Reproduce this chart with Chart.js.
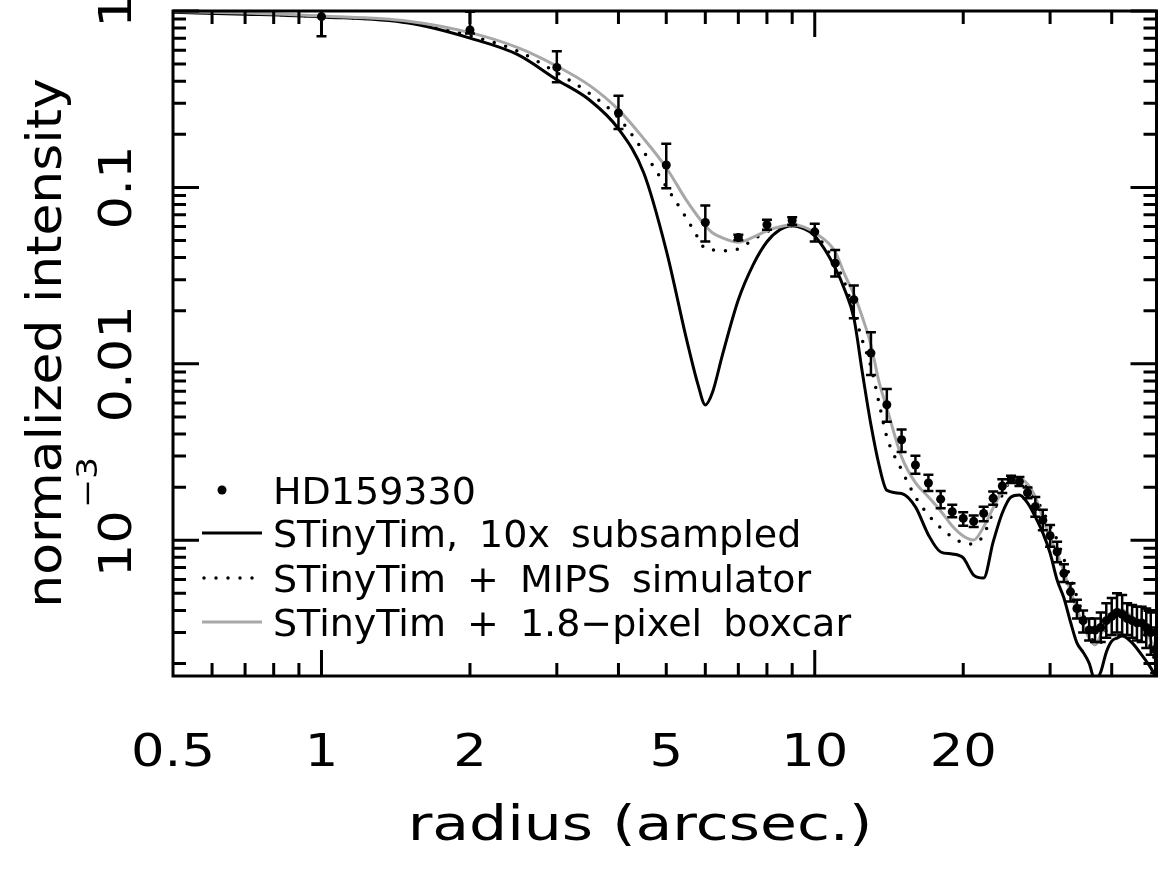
<!DOCTYPE html>
<html>
<head>
<meta charset="utf-8">
<script src="https://cdn.jsdelivr.net/npm/chart.js@4.4.0/dist/chart.umd.min.js"></script>
<style>
  html, body { margin: 0; padding: 0; background: #fff; }
  #wrap { width: 1161px; height: 871px; position: relative; }
</style>
</head>
<body>
<div id="wrap"><canvas id="psfChart"></canvas></div>
<script>
// radius grid (arcsec) of the model curves
const curveRadius = [0.5, 0.7, 1, 1.5, 2, 2.5, 3, 3.5, 4, 4.5,
  5, 5.5, 5.8, 6, 6.2, 6.5, 7, 7.5, 8, 8.5,
  9, 9.5, 10, 11, 11.5, 12, 12.5, 13, 13.5, 14,
  15, 16, 17, 18, 19, 20, 21, 22, 23, 24, 25, 26, 27, 28, 29, 30,
  31, 32, 33, 34, 35, 36, 37, 38, 39, 40, 41, 42, 44, 46, 48, 49];

// STinyTim, 10x subsampled
const tinyTim10x = [0.983, 0.960, 0.926, 0.854, 0.702, 0.566, 0.408, 0.312, 0.215, 0.121,
  0.044, 0.01368, 0.0076, 0.00585, 0.00685, 0.01125, 0.02307, 0.0364, 0.0492, 0.0575,
  0.0606, 0.0583, 0.0532, 0.0350, 0.0263, 0.01824, 0.00878, 0.00451, 0.00267, 0.00192,
  0.00184, 0.001545, 0.001072, 0.000858, 0.000836, 0.000794, 0.000635, 0.000611, 0.000978, 0.001428,
  0.00176, 0.001807, 0.001627, 0.001356, 0.0011, 0.000847, 0.000595, 0.000471, 0.000344, 0.000262,
  0.000232, 0.000201, 0.000161, 0.000179, 0.000232, 0.000268, 0.000279, 0.000287, 0.000262, 0.000224,
  0.000189, 0.000170];

// STinyTim + MIPS simulator
const tinyTimMips = [0.986, 0.967, 0.929, 0.865, 0.725, 0.592, 0.447, 0.340, 0.2485, 0.1594,
  0.1009, 0.0665, 0.0518, 0.0449, 0.0443, 0.0437, 0.0449, 0.0505, 0.0561, 0.0591,
  0.0606, 0.0591, 0.0547, 0.0374, 0.0288, 0.0197, 0.01349, 0.00962, 0.00601, 0.00385,
  0.002504, 0.00176, 0.00139, 0.001174, 0.001044, 0.000966, 0.000953, 0.001072, 0.001447, 0.001807,
  0.00217, 0.0022, 0.002006, 0.001738, 0.001466, 0.001205, 0.001004, 0.000783, 0.000611, 0.000477,
  0.000382, 0.000306, 0.000258, 0.000262, 0.00031, 0.000362, 0.000387, 0.000392, 0.000358, 0.00031,
  0.000245, 0.000204];

// STinyTim + 1.8-pixel boxcar
const tinyTimBoxcar = [0.992, 0.973, 0.936, 0.876, 0.754, 0.620, 0.487, 0.3775, 0.276, 0.189,
  0.1293, 0.0841, 0.0682, 0.0606, 0.0553, 0.0518, 0.0489, 0.0522, 0.0568, 0.0598,
  0.0614, 0.0598, 0.0553, 0.0432, 0.032, 0.0249, 0.01824, 0.0128, 0.0079, 0.00563,
  0.00297, 0.00212, 0.00176, 0.001466, 0.001205, 0.001058, 0.001004, 0.00119, 0.001525, 0.001904,
  0.00217, 0.002227, 0.002086, 0.00176, 0.001338, 0.00103, 0.000847, 0.000661, 0.000516, 0.000408,
  0.000331, 0.000279, 0.000255, 0.00029, 0.000344, 0.000387, 0.000402, 0.000402, 0.000367, 0.000331,
  0.000272, 0.000239];

// HD159330 measurements, one per arcsec
const obsRadius = [1, 2, 3, 4, 5, 6, 7, 8, 9, 10, 11, 12, 13, 14, 15, 16, 17, 18, 19, 20,
  21, 22, 23, 24, 25, 26, 27, 28, 29, 30, 31, 32, 33, 34, 35, 36, 37, 38, 39, 40,
  41, 42, 43, 44, 45, 46, 47, 48, 49];
const obsIntensity = [0.93, 0.78, 0.479, 0.264, 0.134, 0.0633, 0.052, 0.0614, 0.065, 0.056,
  0.0372, 0.0231, 0.0115, 0.00586, 0.00371, 0.00267, 0.00211, 0.00171, 0.00145, 0.00133,
  0.00128, 0.00142, 0.00173, 0.00203, 0.00222, 0.00215, 0.00186, 0.00155, 0.0013, 0.00106,
  0.00086, 0.00065, 0.00051, 0.00041, 0.00035, 0.00031, 0.00031, 0.00032, 0.00035, 0.00037,
  0.00039, 0.00038, 0.00036, 0.00035, 0.00034, 0.00034, 0.00032, 0.0003, 0.00024];
const obsLow = [0.72, 0.745, 0.394, 0.214, 0.099, 0.0494, 0.0501, 0.0575, 0.0614, 0.0494,
  0.0313, 0.0181, 0.00865, 0.00469, 0.00316, 0.00238, 0.0019, 0.00152, 0.00135, 0.00121,
  0.00119, 0.00128, 0.00159, 0.00185, 0.00211, 0.00203, 0.00173, 0.00136, 0.00114, 0.00092,
  0.00075, 0.00058, 0.00045, 0.00036, 0.0003, 0.00027, 0.000265, 0.000265, 0.00028, 0.00029,
  0.0003, 0.00029, 0.00029, 0.00028, 0.00027, 0.000265, 0.000245, 0.000224, 0.000177];
const obsHigh = [1.14, 0.99, 0.591, 0.331, 0.177, 0.079, 0.0539, 0.0656, 0.0678, 0.0623,
  0.0442, 0.0278, 0.0151, 0.0072, 0.00425, 0.00301, 0.00235, 0.0019, 0.00159, 0.00144,
  0.00138, 0.00155, 0.00189, 0.00222, 0.00232, 0.00228, 0.00199, 0.00176, 0.00149, 0.00122,
  0.00098, 0.00073, 0.00057, 0.00046, 0.0004, 0.00036, 0.00036, 0.00039, 0.00044, 0.00047,
  0.0005, 0.00049, 0.00044, 0.00043, 0.00042, 0.00042, 0.00041, 0.00039, 0.00032];

// axes
const xMin = 0.5, xMax = 49.3;
const yMin = 1.7e-4, yMax = 1;
const xTickValues = [0.5, 1, 2, 5, 10, 20];
const xTickLabels = ['0.5', '1', '2', '5', '10', '20'];
const yTickValues = [1, 0.1, 0.01, 0.001];
const yTickLabels = ['1', '0.1', '0.01', '10'];
const xMajorTicks = [1, 10];
const xMinorTicks = [0.6, 0.7, 0.8, 0.9, 2, 3, 4, 5, 6, 7, 8, 9, 20, 30, 40];
const yMajorTicks = [1, 0.1, 0.01, 0.001];
const yMinorTicks = [];
[1e-4, 1e-3, 1e-2, 1e-1].forEach(d => {
    for (let m = 2; m <= 9; m++) yMinorTicks.push(m * d);
});

const legendLabels = ['HD159330', 'STinyTim, 10x subsampled',
    'STinyTim + MIPS simulator', 'STinyTim + 1.8\u2212pixel boxcar'];
const xTitle = 'radius (arcsec.)';
const yTitle = 'normalized intensity';

const FONT = '"DejaVu Sans", sans-serif';
const GRAY = '#a8a8a8';

function pairs(xs, ys) {
    return xs.map((x, i) => ({ x: x, y: ys[i] }));
}

// the plot font is wider than DejaVu, so stretch glyphs horizontally
function wideText(ctx, text, x, y, sx, align) {
    ctx.save();
    ctx.translate(x, y);
    ctx.scale(sx, 1);
    ctx.textAlign = align || 'center';
    ctx.textBaseline = 'alphabetic';
    ctx.fillText(text, 0, 0);
    ctx.restore();
}

function rotatedText(ctx, text, x, y, sx) {
    ctx.save();
    ctx.translate(x, y);
    ctx.rotate(-Math.PI / 2);
    wideText(ctx, text, 0, 0, sx);
    ctx.restore();
}

const errorBars = {
    id: 'errorBars',
    afterDatasetsDraw(chart) {
        const ctx = chart.ctx;
        const area = chart.chartArea;
        const xs = chart.scales.x, ys = chart.scales.y;
        ctx.save();
        ctx.beginPath();
        ctx.rect(area.left, area.top, area.right - area.left, area.bottom - area.top);
        ctx.clip();
        ctx.strokeStyle = '#000';
        ctx.lineWidth = 2.5;
        obsRadius.forEach((r, i) => {
            const px = xs.getPixelForValue(r);
            const top = ys.getPixelForValue(obsHigh[i]);
            const bot = ys.getPixelForValue(obsLow[i]);
            ctx.beginPath();
            ctx.moveTo(px, top); ctx.lineTo(px, bot);
            ctx.moveTo(px - 5, top); ctx.lineTo(px + 5, top);
            ctx.moveTo(px - 5, bot); ctx.lineTo(px + 5, bot);
            ctx.stroke();
        });
        ctx.restore();
    }
};

const frameAndText = {
    id: 'frameAndText',
    afterDraw(chart) {
        const ctx = chart.ctx;
        const a = chart.chartArea;
        const xs = chart.scales.x, ys = chart.scales.y;
        ctx.save();
        ctx.strokeStyle = '#000';
        ctx.fillStyle = '#000';
        ctx.lineWidth = 3;
        ctx.lineCap = 'butt';

        // ticks on all four sides, pointing inward
        const tickX = (vals, len) => {
            ctx.beginPath();
            vals.forEach(v => {
                const px = xs.getPixelForValue(v);
                ctx.moveTo(px, a.bottom); ctx.lineTo(px, a.bottom - len);
                ctx.moveTo(px, a.top); ctx.lineTo(px, a.top + len);
            });
            ctx.stroke();
        };
        const tickY = (vals, len) => {
            ctx.beginPath();
            vals.forEach(v => {
                const py = ys.getPixelForValue(v);
                ctx.moveTo(a.left, py); ctx.lineTo(a.left + len, py);
                ctx.moveTo(a.right, py); ctx.lineTo(a.right - len, py);
            });
            ctx.stroke();
        };
        tickX(xMajorTicks, 26);
        tickX(xMinorTicks, 13);
        tickY(yMajorTicks, 26);
        tickY(yMinorTicks, 13);
        ctx.strokeRect(a.left, a.top, a.right - a.left, a.bottom - a.top);

        // x tick labels
        ctx.font = '44px ' + FONT;
        xTickValues.forEach((v, i) => {
            wideText(ctx, xTickLabels[i], xs.getPixelForValue(v), 766, 1.2);
        });

        // y tick labels, rotated to read upward
        yTickValues.forEach((v, i) => {
            const py = ys.getPixelForValue(v);
            ctx.font = '44px ' + FONT;
            if (v === 0.001) {
                ctx.save();
                ctx.translate(131, py);
                ctx.rotate(-Math.PI / 2);
                const w = ctx.measureText(yTickLabels[i]).width * 1.2;
                wideText(ctx, yTickLabels[i], -37, 0, 1.2, 'left');
                ctx.font = '29px ' + FONT;
                wideText(ctx, '\u22123', -37 + w + 2, -34, 1.2, 'left');
                ctx.restore();
            } else {
                rotatedText(ctx, yTickLabels[i], 131, py, 1.2);
            }
        });

        // axis titles
        ctx.font = '48px ' + FONT;
        wideText(ctx, xTitle, 640, 840, 1.25);
        rotatedText(ctx, yTitle, 61, 343, 1.08);

        // legend
        ctx.font = '38px ' + FONT;
        ctx.textAlign = 'left';
        const rows = [490, 533, 578, 622];
        ctx.beginPath();
        ctx.arc(222, rows[0], 4.5, 0, Math.PI * 2);
        ctx.fill();
        ctx.lineWidth = 3;
        ctx.beginPath();
        ctx.moveTo(202, rows[1]); ctx.lineTo(262, rows[1]);
        ctx.stroke();
        ctx.save();
        ctx.setLineDash([0, 12]);
        ctx.lineCap = 'round';
        ctx.lineWidth = 3.5;
        ctx.beginPath();
        ctx.moveTo(204, rows[2]); ctx.lineTo(262, rows[2]);
        ctx.stroke();
        ctx.restore();
        ctx.strokeStyle = GRAY;
        ctx.beginPath();
        ctx.moveTo(202, rows[3]); ctx.lineTo(262, rows[3]);
        ctx.stroke();
        ctx.wordSpacing = '9px';
        legendLabels.forEach((t, i) => {
            ctx.fillText(t, 273, rows[i] + 13.5);
        });
        ctx.wordSpacing = '0px';
        ctx.restore();
    }
};

new Chart(document.getElementById('psfChart'), {
    type: 'scatter',
    data: {
        datasets: [
            {
                label: legendLabels[0],
                data: pairs(obsRadius, obsIntensity),
                showLine: false,
                pointRadius: 4.5,
                pointBackgroundColor: '#000',
                pointBorderWidth: 0,
                order: 0
            },
            {
                label: legendLabels[3],
                data: pairs(curveRadius, tinyTimBoxcar),
                showLine: true,
                borderColor: GRAY,
                borderWidth: 3,
                pointRadius: 0,
                cubicInterpolationMode: 'monotone',
                order: 1
            },
            {
                label: legendLabels[2],
                data: pairs(curveRadius, tinyTimMips),
                showLine: true,
                borderColor: '#000',
                borderWidth: 3.5,
                borderDash: [0, 12],
                borderCapStyle: 'round',
                pointRadius: 0,
                cubicInterpolationMode: 'monotone',
                order: 2
            },
            {
                label: legendLabels[1],
                data: pairs(curveRadius, tinyTim10x),
                showLine: true,
                borderColor: '#000',
                borderWidth: 3,
                pointRadius: 0,
                cubicInterpolationMode: 'monotone',
                order: 3
            }
        ]
    },
    options: {
        responsive: true,
        maintainAspectRatio: false,
        animation: false,
        layout: { padding: { left: 173, right: 2, top: 11, bottom: 195 } },
        plugins: {
            legend: { display: false },
            tooltip: { enabled: false }
        },
        scales: {
            x: { type: 'logarithmic', min: xMin, max: xMax, display: false },
            y: { type: 'logarithmic', min: yMin, max: yMax, display: false }
        }
    },
    plugins: [errorBars, frameAndText]
});
</script>
</body>
</html>
